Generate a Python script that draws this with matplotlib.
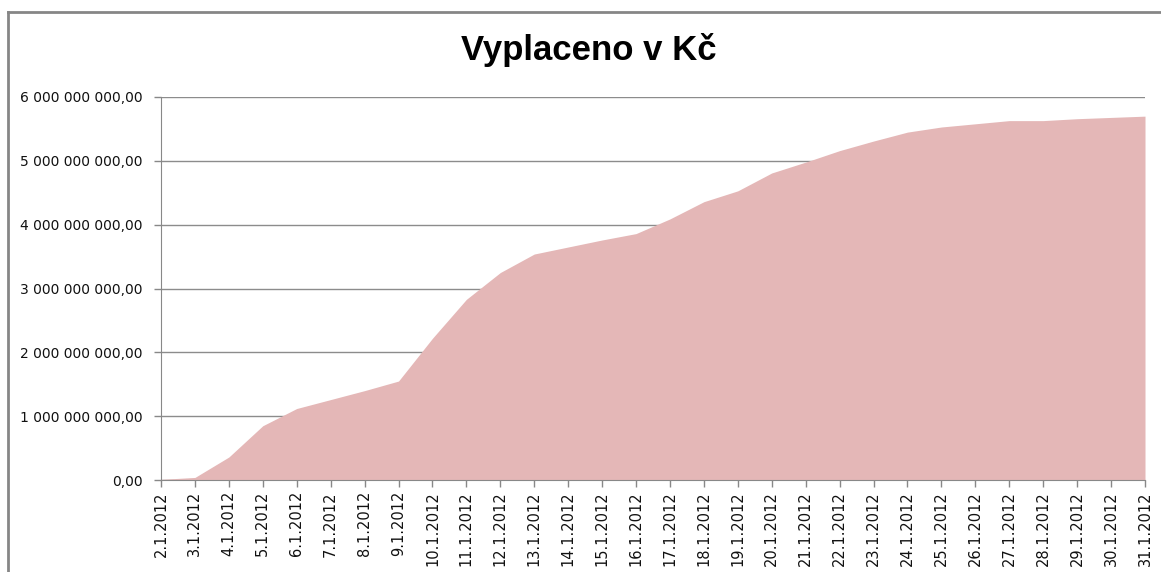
import matplotlib
matplotlib.use("Agg")
import matplotlib.pyplot as plt
from matplotlib.ticker import FuncFormatter
from matplotlib.lines import Line2D

dates = ["2.1.2012", "3.1.2012", "4.1.2012", "5.1.2012", "6.1.2012", "7.1.2012",
         "8.1.2012", "9.1.2012", "10.1.2012", "11.1.2012", "12.1.2012", "13.1.2012",
         "14.1.2012", "15.1.2012", "16.1.2012", "17.1.2012", "18.1.2012", "19.1.2012",
         "20.1.2012", "21.1.2012", "22.1.2012", "23.1.2012", "24.1.2012", "25.1.2012",
         "26.1.2012", "27.1.2012", "28.1.2012", "29.1.2012", "30.1.2012", "31.1.2012"]
paid = [0.01e9, 0.04e9, 0.36e9, 0.85e9, 1.12e9, 1.26e9,
        1.40e9, 1.55e9, 2.22e9, 2.83e9, 3.25e9, 3.54e9,
        3.65e9, 3.76e9, 3.86e9, 4.09e9, 4.36e9, 4.53e9,
        4.81e9, 4.98e9, 5.16e9, 5.31e9, 5.45e9, 5.53e9,
        5.58e9, 5.63e9, 5.63e9, 5.66e9, 5.68e9, 5.70e9]
yticks = [0, 1e9, 2e9, 3e9, 4e9, 5e9, 6e9]
title = "Vyplaceno v Kč"

W, H = 1161, 572
fig = plt.figure(figsize=(W / 100, H / 100), dpi=100)
ax = fig.add_axes([161 / W, 1 - 480 / H, (1145 - 161) / W, (480 - 97) / H])

x = list(range(len(dates)))
ax.fill_between(x, paid, 0, color="#E4B7B7", linewidth=0, zorder=2)
ax.set_xlim(0, len(dates) - 1)
ax.set_ylim(0, 6e9)
ax.set_yticks(yticks)
ax.yaxis.set_major_formatter(FuncFormatter(
    lambda v, p: f"{v:,.2f}".replace(",", " ").replace(".", ",")))
ax.set_xticks(x)
ax.set_xticklabels(dates, rotation=90, fontsize=10.5, color="#111111")
ax.tick_params(axis="y", labelsize=10, colors="#888888", labelcolor="#111111",
               length=5, width=1, pad=8)
ax.tick_params(axis="x", colors="#888888", labelcolor="#111111",
               length=5, width=1, pad=3)
ax.grid(axis="y", color="#8C8C8C", linewidth=1, zorder=1)
ax.set_axisbelow(True)
for s in ["top", "right"]:
    ax.spines[s].set_visible(False)
ax.spines["left"].set_color("#888888")
ax.spines["bottom"].set_color("#888888")
ax.spines["left"].set_zorder(3)
ax.spines["bottom"].set_zorder(3)

fig.text(589 / W, 1 - 50 / H, title, ha="center", va="center",
         fontsize=25, fontweight="bold", family="Liberation Sans", color="#000000")

# outer chart border (left and top)
fig.add_artist(Line2D([7.5 / W, 7.5 / W], [0, 1 - 11.5 / H], transform=fig.transFigure,
                      color="#868686", linewidth=2))
fig.add_artist(Line2D([7.5 / W, 1], [1 - 11.5 / H, 1 - 11.5 / H], transform=fig.transFigure,
                      color="#868686", linewidth=2))

fig.savefig("out.png", dpi=100)
